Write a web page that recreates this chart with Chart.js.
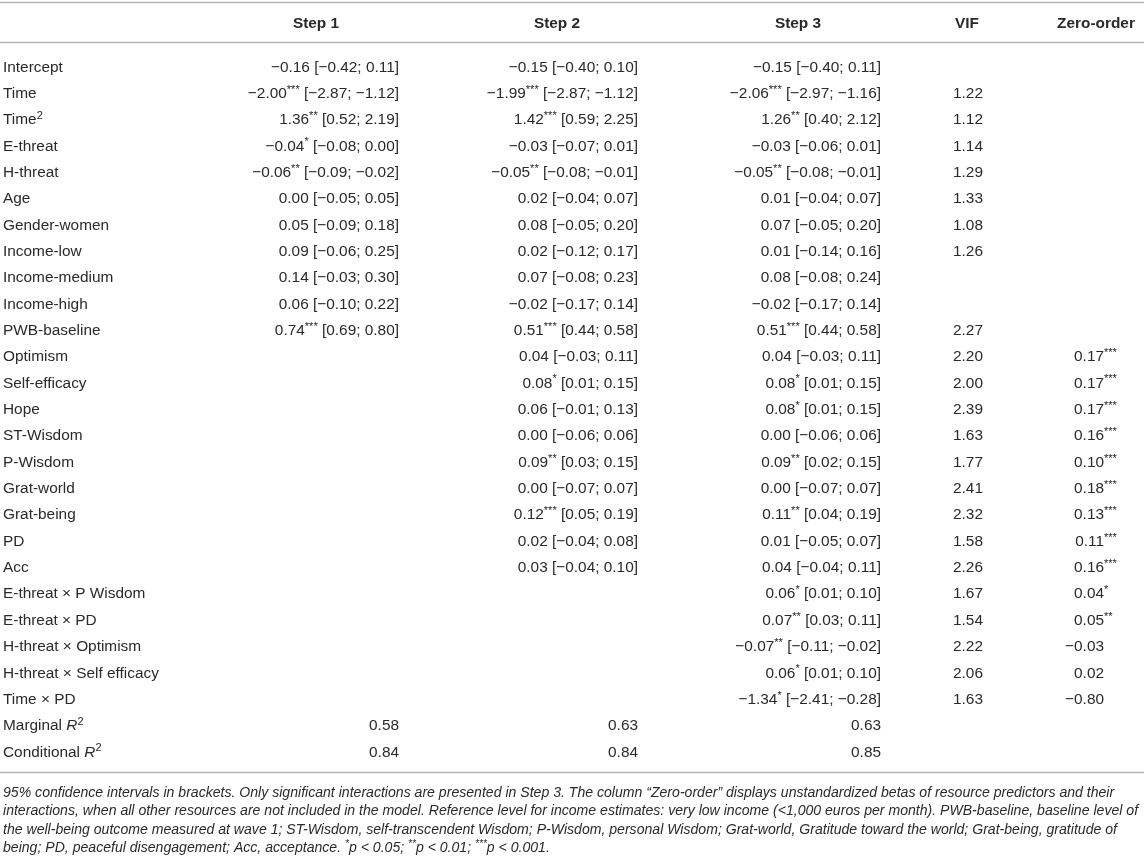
<!DOCTYPE html>
<html><head><meta charset="utf-8">
<script src="https://cdn.jsdelivr.net/npm/chart.js@4.4.1/dist/chart.umd.min.js"></script>
<style>html,body{margin:0;padding:0;background:#fff;overflow:hidden}</style>
</head><body>
<canvas id="c" width="1144" height="862"></canvas>
<script>
const N = null;
const headers = ["Step 1", "Step 2", "Step 3", "VIF", "Zero-order"];
const rowLabels = ["Intercept","Time","Time²","E-threat","H-threat","Age","Gender-women","Income-low","Income-medium","Income-high","PWB-baseline","Optimism","Self-efficacy","Hope","ST-Wisdom","P-Wisdom","Grat-world","Grat-being","PD","Acc","E-threat × P Wisdom","E-threat × PD","H-threat × Optimism","H-threat × Self efficacy","Time × PD","Marginal R²","Conditional R²"];

const step1Est = [-0.16,-2.00,1.36,-0.04,-0.06,0.00,0.05,0.09,0.14,0.06,0.74,N,N,N,N,N,N,N,N,N,N,N,N,N,N,0.58,0.84];
const step1Sig = ["","***","**","*","**","","","","","","***","","","","","","","","","","","","","","","",""];
const step1Lo  = [-0.42,-2.87,0.52,-0.08,-0.09,-0.05,-0.09,-0.06,-0.03,-0.10,0.69,N,N,N,N,N,N,N,N,N,N,N,N,N,N,N,N];
const step1Hi  = [0.11,-1.12,2.19,0.00,-0.02,0.05,0.18,0.25,0.30,0.22,0.80,N,N,N,N,N,N,N,N,N,N,N,N,N,N,N,N];

const step2Est = [-0.15,-1.99,1.42,-0.03,-0.05,0.02,0.08,0.02,0.07,-0.02,0.51,0.04,0.08,0.06,0.00,0.09,0.00,0.12,0.02,0.03,N,N,N,N,N,0.63,0.84];
const step2Sig = ["","***","***","","**","","","","","","***","","*","","","**","","***","","","","","","","","",""];
const step2Lo  = [-0.40,-2.87,0.59,-0.07,-0.08,-0.04,-0.05,-0.12,-0.08,-0.17,0.44,-0.03,0.01,-0.01,-0.06,0.03,-0.07,0.05,-0.04,-0.04,N,N,N,N,N,N,N];
const step2Hi  = [0.10,-1.12,2.25,0.01,-0.01,0.07,0.20,0.17,0.23,0.14,0.58,0.11,0.15,0.13,0.06,0.15,0.07,0.19,0.08,0.10,N,N,N,N,N,N,N];

const step3Est = [-0.15,-2.06,1.26,-0.03,-0.05,0.01,0.07,0.01,0.08,-0.02,0.51,0.04,0.08,0.08,0.00,0.09,0.00,0.11,0.01,0.04,0.06,0.07,-0.07,0.06,-1.34,0.63,0.85];
const step3Sig = ["","***","**","","**","","","","","","***","","*","*","","**","","**","","","*","**","**","*","*","",""];
const step3Lo  = [-0.40,-2.97,0.40,-0.06,-0.08,-0.04,-0.05,-0.14,-0.08,-0.17,0.44,-0.03,0.01,0.01,-0.06,0.02,-0.07,0.04,-0.05,-0.04,0.01,0.03,-0.11,0.01,-2.41,N,N];
const step3Hi  = [0.11,-1.16,2.12,0.01,-0.01,0.07,0.20,0.16,0.24,0.14,0.58,0.11,0.15,0.15,0.06,0.15,0.07,0.19,0.07,0.11,0.10,0.11,-0.02,0.10,-0.28,N,N];

const vifValues = [N,1.22,1.12,1.14,1.29,1.33,1.08,1.26,N,N,2.27,2.20,2.00,2.39,1.63,1.77,2.41,2.32,1.58,2.26,1.67,1.54,2.22,2.06,1.63,N,N];
const zeroOrder = [N,N,N,N,N,N,N,N,N,N,N,0.17,0.17,0.17,0.16,0.10,0.18,0.13,0.11,0.16,0.04,0.05,-0.03,0.02,-0.80,N,N];
const zeroSig   = ["","","","","","","","","","","","***","***","***","***","***","***","***","***","***","*","**","","","","",""];

const footnoteLines = [
  [{t:"95% confidence intervals in brackets. Only significant interactions are presented in Step 3. The column “Zero-order” displays unstandardized betas of resource predictors and their"}],
  [{t:"interactions, when all other resources are not included in the model. Reference level for income estimates: very low income (<1,000 euros per month). PWB-baseline, baseline level of"}],
  [{t:"the well-being outcome measured at wave 1; ST-Wisdom, self-transcendent Wisdom; P-Wisdom, personal Wisdom; Grat-world, Gratitude toward the world; Grat-being, gratitude of"}],
  [{t:"being; PD, peaceful disengagement; Acc, acceptance. "},{t:"*",sup:true},{t:"p < 0.05; "},{t:"**",sup:true},{t:"p < 0.01; "},{t:"***",sup:true},{t:"p < 0.001."}]
];

// ---- layout / style (not data) ----
const FONT = '"Liberation Sans", Arial, Helvetica, sans-serif';
const FS = 15.4;
const TEXT = '#2a2a2a';
const RULE = '#b5b5b5';
const colLayout = [
  {head: 316, anchor: 399, align: 'right'},
  {head: 557, anchor: 638, align: 'right'},
  {head: 798, anchor: 881, align: 'right'},
  {head: 967, anchor: 968, align: 'center'},
  {head: 1096, anchor: 1104, align: 'decimal'}
];

function fmt(v){ return (v < 0 ? '−' : '') + Math.abs(v).toFixed(2); }

function stepCell(est, sig, lo, hi, i){
  if (est[i] === null) return null;
  const segs = [{t: fmt(est[i])}];
  if (sig[i]) segs.push({t: sig[i], sup: true});
  if (lo[i] !== null) segs.push({t: ' [' + fmt(lo[i]) + '; ' + fmt(hi[i]) + ']'});
  return segs;
}
const columnCells = [
  rowLabels.map((r,i) => stepCell(step1Est, step1Sig, step1Lo, step1Hi, i)),
  rowLabels.map((r,i) => stepCell(step2Est, step2Sig, step2Lo, step2Hi, i)),
  rowLabels.map((r,i) => stepCell(step3Est, step3Sig, step3Lo, step3Hi, i)),
  rowLabels.map((r,i) => vifValues[i] === null ? null : [{t: fmt(vifValues[i])}]),
  rowLabels.map((r,i) => zeroOrder[i] === null ? null : [{t: fmt(zeroOrder[i])}].concat(zeroSig[i] ? [{t: zeroSig[i], sup: true}] : []))
];

function labelSegs(label){
  const idx = label.indexOf('²');
  if (idx < 0) return [{t: label}];
  let pre = label.slice(0, idx);
  const segs = [];
  if (/ R$/.test(pre)) { segs.push({t: pre.slice(0, -1)}); segs.push({t: 'R', italic: true}); }
  else segs.push({t: pre});
  segs.push({t: '2', sup: true});
  return segs;
}

function fontOf(s, size, italicAll){
  const sz = s.sup ? size * 0.72 : size;
  const st = (s.italic || italicAll) ? 'italic ' : '';
  const wt = s.bold ? 'bold ' : '';
  return st + wt + sz.toFixed(2) + 'px ' + FONT;
}
function measureRich(ctx, segs, size, italicAll){
  let w = 0;
  segs.forEach(s => { ctx.font = fontOf(s, size, italicAll); s.w = ctx.measureText(s.t).width; w += s.w; });
  return w;
}
function drawRich(ctx, segs, x, yMid, align, size, italicAll){
  const w = measureRich(ctx, segs, size, italicAll);
  let cx = align === 'right' ? x - w : align === 'center' ? x - w / 2 : x;
  const base = yMid + size * 0.36;
  segs.forEach(s => {
    ctx.font = fontOf(s, size, italicAll);
    ctx.fillText(s.t, cx, s.sup ? base - size * 0.34 : base);
    cx += s.w;
  });
}

const tablePlugin = {
  id: 'tablePlugin',
  afterDraw(chart){
    const ctx = chart.ctx;
    const xs = chart.scales.x, ys = chart.scales.y;
    ctx.save();
    ctx.textBaseline = 'alphabetic';
    ctx.textAlign = 'left';
    // rules
    ctx.strokeStyle = RULE; ctx.lineWidth = 1.6;
    [2.5, 42.5, 772.5].forEach(y => { ctx.beginPath(); ctx.moveTo(0, y); ctx.lineTo(1144, y); ctx.stroke(); });
    ctx.fillStyle = TEXT;
    // headers
    headers.forEach((h, k) => drawRich(ctx, [{t: h, bold: true}], xs.getPixelForValue(colLayout[k].head), 22.5, 'center', FS));
    // row labels
    rowLabels.forEach(r => drawRich(ctx, labelSegs(r), 3, ys.getPixelForValue(r), 'left', FS));
    // cells
    chart.data.datasets.forEach((ds, k) => {
      const meta = chart.getDatasetMeta(k);
      meta.data.forEach((el, j) => {
        const raw = ds.data[j];
        const segs = columnCells[k][raw.i];
        const L = colLayout[k];
        if (L.align === 'decimal') {
          drawRich(ctx, [segs[0]], el.x, el.y, 'right', FS);
          if (segs[1]) drawRich(ctx, [segs[1]], el.x, el.y, 'left', FS);
        } else {
          drawRich(ctx, segs, el.x, el.y, L.align, FS);
        }
      });
    });
    // footnote: fit widest line into the table width
    let wMax = 0;
    footnoteLines.forEach(segs => { wMax = Math.max(wMax, measureRich(ctx, segs, 14, true)); });
    const fs = 14 * 1136 / wMax;
    footnoteLines.forEach((segs, n) => drawRich(ctx, segs, 3, 792 + n * 18.4, 'left', fs, true));
    ctx.restore();
  }
};

new Chart(document.getElementById('c'), {
  type: 'scatter',
  data: {
    datasets: headers.map((h, k) => ({
      label: h,
      data: rowLabels.map((r, i) => ({x: colLayout[k].anchor, y: r, i: i})).filter(p => columnCells[k][p.i] !== null),
      pointRadius: 0,
      showLine: false
    }))
  },
  options: {
    responsive: false,
    animation: false,
    events: [],
    devicePixelRatio: 1,
    layout: {padding: {top: 52.8, bottom: 97.8, left: 0, right: 0}},
    plugins: {legend: {display: false}, tooltip: {enabled: false}},
    scales: {
      x: {type: 'linear', min: 0, max: 1144, display: false},
      y: {type: 'category', labels: rowLabels, offset: true, display: false}
    }
  },
  plugins: [tablePlugin]
});
</script>
</body></html>
